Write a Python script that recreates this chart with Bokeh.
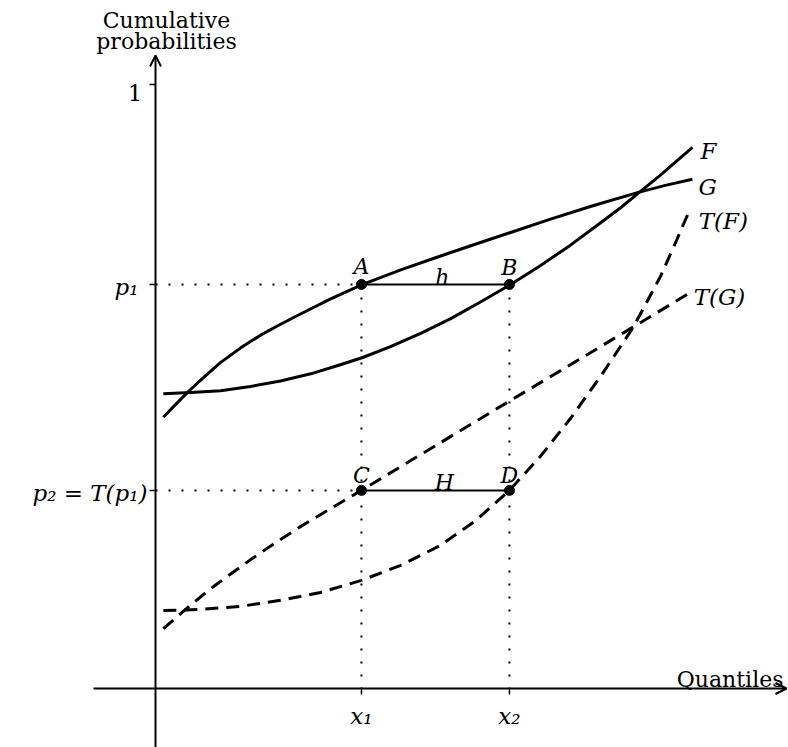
from bokeh.plotting import figure
from bokeh.models import Range1d, Arrow, OpenHead
from bokeh.core.properties import value
from bokeh.embed import file_html
from bokeh.resources import INLINE

# ---------------- data (quantile, cumulative probability) ----------------
F_x = [0.013, 0.058, 0.108, 0.157, 0.207, 0.257, 0.306, 0.343, 0.389, 0.439,
       0.488, 0.538, 0.588, 0.637, 0.687, 0.737, 0.770, 0.798, 0.836, 0.889]
F_y = [0.488, 0.490, 0.493, 0.500, 0.509, 0.521, 0.536, 0.548, 0.566, 0.588,
       0.612, 0.640, 0.669, 0.700, 0.734, 0.771, 0.796, 0.819, 0.850, 0.896]

G_x = [0.013, 0.033, 0.058, 0.083, 0.108, 0.141, 0.174, 0.207, 0.240, 0.290,
       0.343, 0.406, 0.472, 0.522, 0.588, 0.654, 0.720, 0.798, 0.844, 0.889]
G_y = [0.449, 0.470, 0.495, 0.518, 0.540, 0.564, 0.585, 0.603, 0.620, 0.645,
       0.669, 0.693, 0.716, 0.733, 0.755, 0.777, 0.798, 0.821, 0.833, 0.843]

TF_x = [0.013, 0.075, 0.141, 0.207, 0.273, 0.341, 0.406, 0.472, 0.530, 0.586,
        0.637, 0.687, 0.737, 0.791, 0.836, 0.861, 0.886]
TF_y = [0.129, 0.131, 0.136, 0.146, 0.159, 0.179, 0.204, 0.237, 0.278, 0.328,
        0.384, 0.447, 0.517, 0.598, 0.682, 0.738, 0.796]

TG_x = [0.013, 0.035, 0.058, 0.080, 0.099, 0.125, 0.157, 0.195, 0.240, 0.290,
        0.341, 0.422, 0.510, 0.583, 0.682, 0.770, 0.858, 0.886]
TG_y = [0.099, 0.118, 0.138, 0.156, 0.171, 0.190, 0.213, 0.239, 0.268, 0.298,
        0.328, 0.377, 0.430, 0.474, 0.533, 0.586, 0.639, 0.656]

x1, x2 = 0.341, 0.586
p1, p2 = 0.669, 0.328

y_tick_vals = [1.0, p1, p2]
y_tick_labels = ["1", "p\u2081", "p\u2082 = T(p\u2081)"]
x_tick_vals = [x1, x2]
x_tick_labels = ["x\u2081", "x\u2082"]

curve_names = ["F", "G", "T(F)", "T(G)"]

# ---------------- layout ----------------
W, H = 788, 747
U = 604.0                 # pixels per unit
OX, OY = 155.0, 688.0     # origin in figure pixels (from top-left)

p = figure(width=W, height=H,
           x_range=Range1d(-OX / U, (W - OX) / U),
           y_range=Range1d(-(H - OY) / U, OY / U),
           output_backend="svg", toolbar_location=None,
           x_axis_location=None, y_axis_location=None,
           min_border=0, outline_line_color=None)
p.grid.visible = False
p.background_fill_color = "white"
p.border_fill_color = "white"

px = 1.0 / U
SERIF = "DejaVu Serif"

# axes with open arrow heads
p.add_layout(Arrow(end=OpenHead(size=11, line_width=2, line_color="black"),
                   x_start=-62 * px, y_start=0, x_end=(W - OX - 2) * px, y_end=0,
                   line_width=2, line_color="black"))
p.add_layout(Arrow(end=OpenHead(size=11, line_width=2, line_color="black"),
                   x_start=0, y_start=-60 * px, x_end=0, y_end=633 * px,
                   line_width=2, line_color="black"))

# tick marks
p.segment(x0=[0] * 3, y0=y_tick_vals, x1=[-6 * px] * 3, y1=y_tick_vals,
          line_width=1.5, line_color="black")
p.segment(x0=x_tick_vals, y0=[0, 0], x1=x_tick_vals, y1=[-6 * px] * 2,
          line_width=1.5, line_color="black")

# dotted guides
p.segment(x0=[0, 0, x1, x2], y0=[p1, p2, p1, p1],
          x1=[x1, x1, x1, x2], y1=[p1, p2, 0, 0],
          line_width=2, line_color="black", line_dash="2 11")

# curves
p.line(F_x, F_y, line_width=3, line_color="black", line_join="round")
p.line(G_x, G_y, line_width=3, line_color="black", line_join="round")
p.line(TF_x, TF_y, line_width=3, line_color="black", line_dash="13 8", line_join="round")
p.line(TG_x, TG_y, line_width=3, line_color="black", line_dash="13 8", line_join="round")

# horizontal connectors h and H
p.segment(x0=[x1, x1], y0=[p1, p2], x1=[x2, x2], y1=[p1, p2],
          line_width=2, line_color="black")

# points A B C D
p.scatter([x1, x2, x1, x2], [p1, p1, p2, p2], size=10, color="black")

# point labels
p.text([x1, x2, x1, x2], [p1, p1, p2, p2], text=["A", "B", "C", "D"],
       text_align="center", text_baseline="alphabetic", y_offset=[-18, -17, -15, -15],
       text_font=value(SERIF), text_font_style="italic", text_font_size="22px")
p.text([(x1 + x2) / 2, (x1 + x2) / 2], [p1, p2], text=["h", "H"],
       x_offset=[7, 9], y_offset=[-7, -8],
       text_align="center", text_baseline="alphabetic",
       text_font=value(SERIF), text_font_style="italic", text_font_size="22px")

# curve labels
p.text([F_x[-1], G_x[-1], TF_x[-1], TG_x[-1]],
       [F_y[-1], G_y[-1], TF_y[-1], TG_y[-1]],
       text=curve_names, x_offset=[8, 6, 8, 3], y_offset=[4, 8, 13, 5],
       text_align="left", text_baseline="alphabetic",
       text_font=value(SERIF), text_font_style="italic", text_font_size="23px")

# y tick labels
p.text([0, 0, 0], y_tick_vals, text=y_tick_labels,
       x_offset=[-13, -17, -8], y_offset=[8, 3, 3],
       text_align="right", text_baseline="alphabetic",
       text_font=value(SERIF), text_font_style=["normal", "italic", "italic"],
       text_font_size="23px")

# x tick labels
p.text(x_tick_vals, [0, 0], text=x_tick_labels, y_offset=27,
       text_align="center", text_baseline="alphabetic",
       text_font=value(SERIF), text_font_style="italic", text_font_size="23px")

# axis titles
p.text([0, 0], [633 * px, 633 * px], text=["Cumulative", "probabilities"],
       x_offset=11, y_offset=[-35, -14],
       text_align="center", text_baseline="alphabetic",
       text_font=value(SERIF), text_font_size="22px")
p.text([(W - OX - 5) * px], [0], text=["Quantiles"], y_offset=-9,
       text_align="right", text_baseline="alphabetic",
       text_font=value(SERIF), text_font_size="22px")

open("out.html", "w").write(file_html(p, INLINE))
